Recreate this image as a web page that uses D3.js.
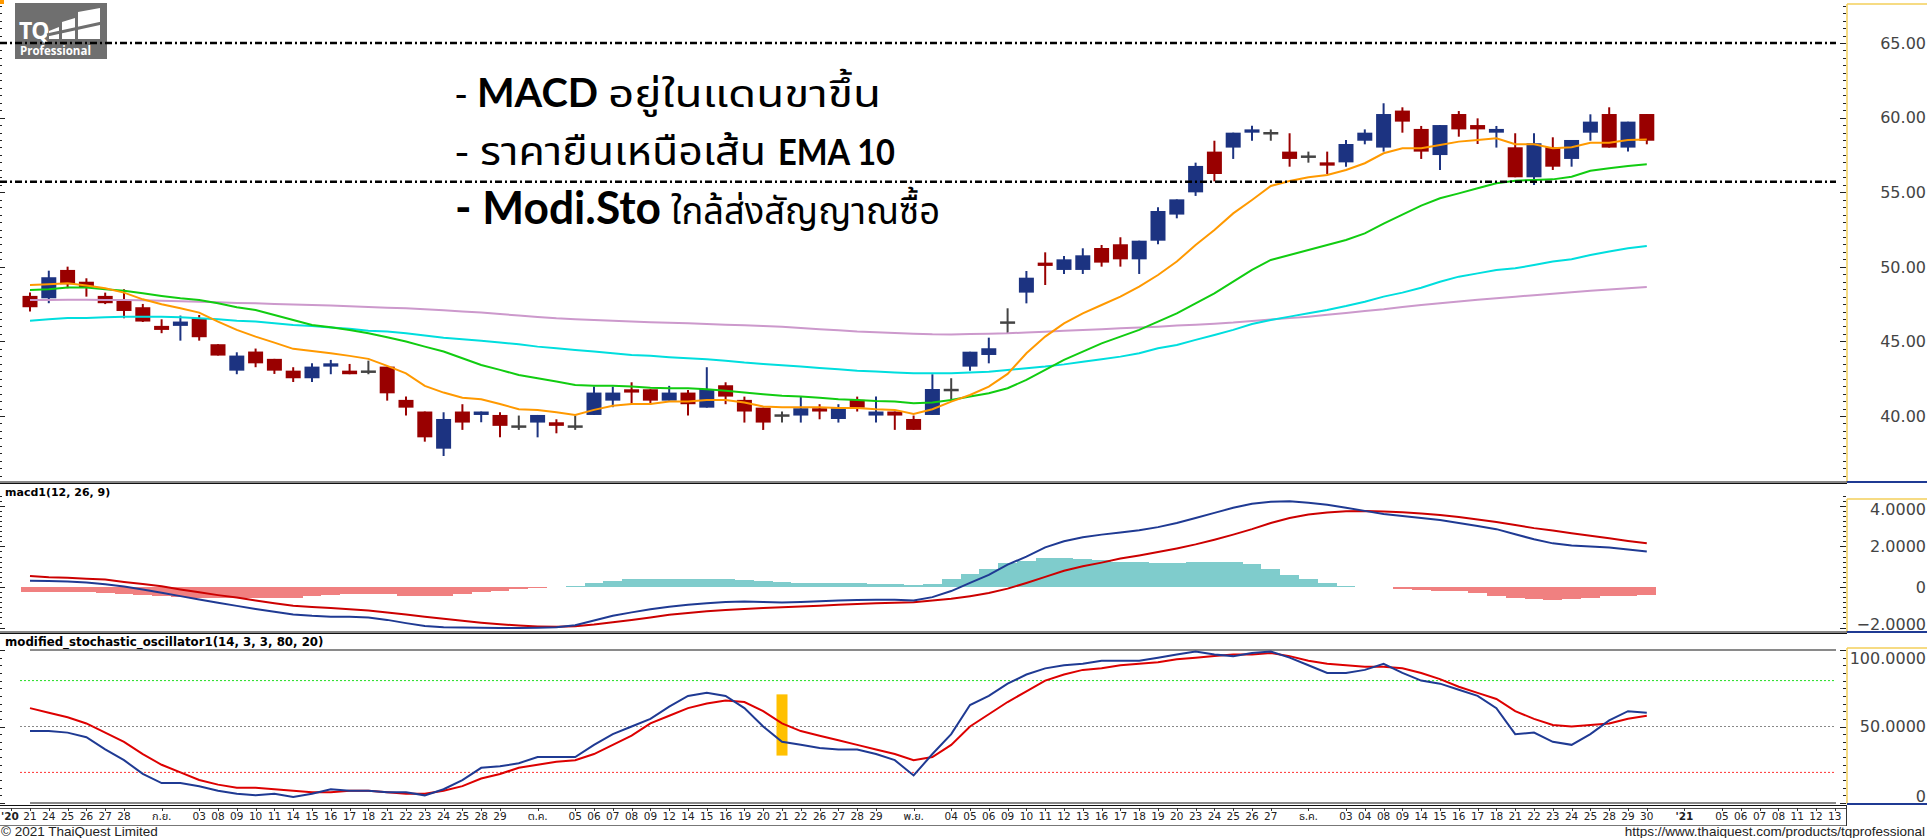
<!DOCTYPE html>
<html>
<head>
<meta charset="utf-8">
<script src="https://cdn.jsdelivr.net/npm/d3@7"></script>
<style>
  html, body { margin: 0; padding: 0; background: #fff; overflow: hidden; }
  svg { display: block; }
</style>
</head>
<body>
<div id="chart"></div>
<script>
// ---- price candles (one per trading day, Aug 21 2020 .. Dec 30 2020)
const open = [48.05,47.89,49.79,49.0,48.05,47.71,47.29,46.04,46.04,46.55,44.81,43.04,44.32,43.83,43.04,42.53,43.31,43.04,42.97,43.31,41.08,40.3,37.81,40.3,40.07,40.07,39.29,39.56,39.58,39.29,40.07,41.03,41.79,41.79,41.03,41.57,40.56,42.06,41.08,40.56,40.03,40.03,40.52,39.8,41.08,40.03,40.3,39.8,40.07,41.74,43.31,44.09,46.26,48.27,50.28,49.79,49.79,51.26,51.51,50.5,51.75,53.5,54.99,57.72,57.99,58.99,58.95,57.72,57.38,57.0,57.0,58.45,57.99,60.47,59.24,57.49,60.24,59.5,58.99,58.01,56.0,58.01,57.23,58.99,60.24,57.99,60.24];
const high = [48.27,49.74,50.01,49.23,48.27,48.49,47.51,46.48,46.73,46.77,44.81,44.27,44.52,43.83,43.27,43.53,43.76,43.49,43.71,43.31,41.3,40.3,40.25,40.79,40.3,40.25,40.03,40.07,39.78,40.03,41.97,41.97,42.26,41.79,42.02,41.75,43.27,42.26,41.3,40.56,40.3,41.3,40.79,40.79,41.3,41.3,40.3,40.03,42.8,42.53,44.31,45.25,47.22,49.72,50.97,50.73,51.24,51.46,51.98,51.75,53.99,54.52,56.98,58.45,58.99,59.46,59.21,58.95,57.72,57.72,58.5,59.21,60.96,60.69,59.44,59.5,60.44,59.95,59.44,58.95,58.95,58.68,58.5,60.22,60.69,59.73,60.24];
const low = [47.0,47.56,48.56,48.0,47.5,46.55,46.3,45.55,45.05,45.05,44.05,42.8,43.27,42.82,42.28,42.28,42.8,42.8,42.8,41.03,40.03,38.28,37.32,39.07,39.58,38.57,39.07,38.57,38.84,39.07,40.07,40.59,40.79,40.79,41.03,40.03,40.56,40.79,39.56,39.07,39.56,39.56,39.78,39.56,40.3,39.56,39.07,39.07,40.07,41.0,43.04,43.53,45.54,47.55,48.78,49.52,49.52,50.01,50.01,49.52,51.51,53.25,54.75,55.73,57.23,58.45,58.45,56.71,56.98,56.22,56.71,58.21,57.72,58.99,57.23,56.49,58.72,58.23,57.99,56.0,55.48,56.49,56.71,58.45,57.99,57.72,58.21];
const close = [47.29,49.3,48.83,48.63,47.56,47.04,46.33,45.77,46.33,45.28,44.05,44.05,43.53,43.04,42.53,43.31,43.53,42.8,42.97,41.52,40.56,38.57,39.8,39.56,40.3,39.34,39.29,40.07,39.34,39.29,41.57,41.57,41.57,41.03,41.57,40.79,41.81,41.3,40.3,39.56,40.03,40.52,40.3,40.52,40.56,40.3,40.03,39.07,41.81,41.74,44.31,44.54,46.26,49.27,50.06,50.5,50.77,50.28,50.5,51.75,53.74,54.52,56.76,56.22,58.99,59.21,58.95,57.23,57.38,56.78,58.23,58.99,60.24,59.73,57.72,59.5,59.21,59.21,59.24,56.0,58.28,56.71,58.5,59.73,57.99,59.73,58.45];

// ---- moving averages drawn on the price panel
const ema10 = [48.78,48.83,48.9,48.74,48.56,48.27,47.82,47.49,47.22,46.93,46.33,45.77,45.32,44.92,44.5,44.36,44.21,44.03,43.83,43.36,42.86,42.02,41.57,41.23,41.12,40.81,40.45,40.41,40.25,40.07,40.41,40.68,40.81,40.81,40.97,40.97,41.08,41.08,40.9,40.63,40.59,40.59,40.59,40.54,40.54,40.45,40.41,40.14,40.45,40.96,41.41,41.97,42.82,44.2,45.32,46.21,46.88,47.44,48.0,48.67,49.45,50.35,51.46,52.47,53.58,54.48,55.42,55.75,56.0,56.15,56.49,56.94,57.61,57.94,57.94,58.16,58.39,58.5,58.61,58.21,58.21,57.94,58.01,58.32,58.32,58.5,58.54];
const maGreen = [48.45,48.49,48.61,48.61,48.49,48.4,48.23,48.05,47.89,47.78,47.56,47.29,47.11,46.77,46.44,46.1,45.95,45.77,45.55,45.28,44.99,44.65,44.32,43.87,43.42,43.09,42.75,42.53,42.31,42.08,42.02,42.02,41.97,41.9,41.86,41.86,41.79,41.7,41.57,41.46,41.35,41.3,41.23,41.12,41.08,41.01,40.97,40.85,40.9,41.07,41.3,41.52,41.86,42.42,43.09,43.76,44.31,44.87,45.32,45.77,46.32,46.88,47.55,48.22,49.0,49.79,50.46,50.79,51.13,51.46,51.8,52.24,52.9,53.5,54.1,54.59,54.92,55.26,55.6,55.77,55.82,55.86,56.04,56.44,56.6,56.76,56.87];
const maCyan = [46.39,46.48,46.57,46.57,46.62,46.66,46.66,46.66,46.62,46.55,46.48,46.39,46.33,46.22,46.1,46.04,45.93,45.84,45.72,45.66,45.55,45.39,45.25,45.14,45.05,44.92,44.81,44.65,44.54,44.43,44.32,44.21,44.09,44.03,43.94,43.87,43.8,43.71,43.58,43.49,43.4,43.31,43.22,43.13,43.04,42.98,42.91,42.86,42.86,42.86,42.91,42.97,43.09,43.2,43.31,43.46,43.64,43.8,43.98,44.2,44.54,44.76,45.1,45.43,45.77,46.17,46.44,46.66,46.88,47.11,47.37,47.66,48.0,48.27,48.6,49.0,49.34,49.56,49.79,49.9,50.12,50.35,50.5,50.79,51.02,51.24,51.4];
const maPlum = [47.78,47.78,47.79,47.79,47.78,47.78,47.75,47.72,47.69,47.65,47.62,47.58,47.55,47.51,47.48,47.44,47.4,47.35,47.31,47.26,47.22,47.15,47.08,47.0,46.93,46.83,46.74,46.64,46.55,46.49,46.44,46.38,46.33,46.29,46.25,46.21,46.17,46.12,46.08,46.03,45.99,45.9,45.82,45.74,45.66,45.61,45.57,45.52,45.48,45.47,45.49,45.51,45.54,45.6,45.65,45.71,45.77,45.82,45.88,45.93,45.99,46.06,46.12,46.19,46.26,46.36,46.46,46.56,46.66,46.78,46.9,47.03,47.15,47.3,47.44,47.56,47.67,47.79,47.9,48.0,48.1,48.2,48.3,48.39,48.48,48.56,48.65];
const levelLines = [65.0, 55.7];

// ---- macd1(12, 26, 9)
const macdLine = [0.31,0.30,0.27,0.22,0.14,0.02,-0.12,-0.28,-0.45,-0.62,-0.78,-0.93,-1.08,-1.22,-1.35,-1.42,-1.46,-1.47,-1.50,-1.62,-1.78,-1.92,-1.98,-2.0,-2.01,-2.02,-2.02,-2.01,-1.98,-1.88,-1.65,-1.42,-1.25,-1.1,-0.97,-0.88,-0.8,-0.74,-0.72,-0.74,-0.76,-0.74,-0.7,-0.67,-0.64,-0.63,-0.63,-0.66,-0.5,-0.2,0.2,0.6,1.1,1.5,1.95,2.25,2.45,2.58,2.68,2.8,2.95,3.15,3.4,3.65,3.9,4.1,4.2,4.22,4.15,4.05,3.9,3.75,3.6,3.5,3.4,3.3,3.15,3.0,2.85,2.6,2.35,2.15,2.05,2.0,1.95,1.85,1.75];
const macdSignal = [0.54,0.48,0.45,0.41,0.37,0.25,0.15,0.04,-0.12,-0.26,-0.4,-0.52,-0.66,-0.8,-0.92,-0.99,-1.04,-1.1,-1.16,-1.26,-1.36,-1.46,-1.56,-1.66,-1.76,-1.84,-1.9,-1.94,-1.96,-1.93,-1.85,-1.74,-1.62,-1.5,-1.37,-1.28,-1.2,-1.13,-1.08,-1.03,-1.0,-0.96,-0.92,-0.88,-0.84,-0.8,-0.77,-0.75,-0.66,-0.58,-0.45,-0.3,-0.08,0.2,0.5,0.8,1.02,1.2,1.4,1.55,1.72,1.9,2.1,2.33,2.58,2.85,3.15,3.4,3.57,3.67,3.73,3.74,3.72,3.68,3.62,3.55,3.45,3.32,3.2,3.05,2.9,2.78,2.65,2.52,2.4,2.27,2.15];
const macdHist = [-0.25,-0.25,-0.26,-0.27,-0.3,-0.35,-0.38,-0.42,-0.47,-0.52,-0.55,-0.56,-0.56,-0.55,-0.55,-0.45,-0.4,-0.36,-0.33,-0.35,-0.42,-0.46,-0.42,-0.34,-0.25,-0.18,-0.12,-0.07,-0.02,0.05,0.2,0.32,0.37,0.4,0.4,0.4,0.4,0.39,0.36,0.29,0.24,0.22,0.22,0.21,0.2,0.17,0.14,0.09,0.16,0.38,0.65,0.9,1.18,1.3,1.42,1.42,1.38,1.32,1.25,1.22,1.2,1.2,1.22,1.25,1.22,1.15,0.9,0.6,0.4,0.2,0.03,0.0,0.0,-0.1,-0.15,-0.18,-0.22,-0.32,-0.45,-0.55,-0.6,-0.62,-0.6,-0.52,-0.46,-0.42,-0.4];

// ---- modified_stochastic_oscillator1(14, 3, 3, 80, 20)
const stochK = [47,47,46,43,35,28,19,13,13,11,8,6,5,6,4,6,9,8,8,7,7,5,9,15,23,24,26,30,30,30,38,45,50,55,63,70,72,70,62,50,40,38,36,35,35,32,28,18,32,45,64,70,78,84,88,90,91,93,93,93,95,97,99,97,96,98,99,95,90,85,85,87,91,85,80,78,74,70,62,45,46,40,38,45,54,60,59];
const stochD = [62,59,56,52,46,40,32,25,20,15,12,10,10,9,8,7,7,8,8,7,6,6,8,11,16,19,23,25,27,28,32,38,44,52,57,62,65,67,66,60,52,47,44,41,38,35,32,28,30,38,50,58,66,73,80,84,87,88,90,91,92,94,95,96,97,97,98,96,93,91,90,89,89,88,85,81,76,72,68,60,55,51,50,51,52,55,57];
const stochLevels = [80, 50, 20];
const stochMarks = [{ slot: 40, lo: 31, hi: 71 }];

// ---- date axis, first label sits one slot before the first candle
const xLabelStart = -1;
const xLabels = ["'20","21","24","25","26","27","28","","ก.ย.","",
  "03","08","09","10","11","14","15","16","17","18","21","22","23","24","25","28","29","","ต.ค.","",
  "05","06","07","08","09","12","14","15","16","19","20","21","22","26","27","28","29","","พ.ย.","",
  "04","05","06","09","10","11","12","13","16","17","18","19","20","23","24","25","26","27","","ธ.ค.","",
  "03","04","08","09","14","15","16","17","18","21","22","23","24","25","28","29","30","","'21","",
  "05","06","07","08","11","12","13"];

const priceTicks = [40, 45, 50, 55, 60, 65];
const macdTicks = [4, 2, 0, -2];
const stochTicks = [100, 50, 0];

// ---------------------------------------------------------------
const W = 1927, H = 838;
const plotRight = 1846;
const numFont = "'DejaVu Sans', Verdana, sans-serif";
const latinFont = "Lato, 'Open Sans', sans-serif";
const thaiFont = "'Noto Sans Thai', 'Noto Sans Thai UI', Tahoma, 'Leelawadee UI', 'Noto Sans', sans-serif";

const svg = d3.select("#chart").append("svg")
  .attr("width", W).attr("height", H)
  .style("background", "#fff");

const x = d3.scaleLinear().domain([0, 86]).range([30, 30 + 18.8 * 86]);
const yPrice = d3.scaleLinear().domain([40, 65]).range([416, 43]);
const yMacd = d3.scaleLinear().domain([-2, 4]).range([627.6, 505.8]);
const yStoch = d3.scaleLinear().domain([0, 100]).range([803, 650]);

const panels = [
  { name: "price", top: 4, bottom: 482, scale: yPrice, ticks: priceTicks,
    minor: d3.range(36, 68, 0.5), major: v => v % 5 === 0, fmt: d3.format(".2f") },
  { name: "macd", top: 499, bottom: 632, scale: yMacd, ticks: macdTicks,
    minor: d3.range(-2, 4.6, 0.25), major: v => Math.abs(v % 2) < 1e-9,
    fmt: v => (v === 0 ? "0" : d3.format(".4f")(v)) },
  { name: "stoch", top: 648, bottom: 804, scale: yStoch, ticks: stochTicks,
    minor: d3.range(0, 101, 5), major: v => v % 50 === 0,
    fmt: v => (v === 0 ? "0" : d3.format(".4f")(v)) }
];

// ---- right hand value boxes + ticks on both edges
panels.forEach(p => {
  const g = svg.append("g").attr("class", "axis-" + p.name);
  g.append("line").attr("x1", plotRight + 1).attr("x2", W).attr("y1", p.top).attr("y2", p.top)
    .attr("stroke", "#f3cf5a").attr("stroke-width", 1.5);
  g.append("line").attr("x1", plotRight + 1).attr("x2", plotRight + 1).attr("y1", p.top).attr("y2", p.bottom)
    .attr("stroke", "#f3cf5a").attr("stroke-width", 1.5);
  g.append("line").attr("x1", plotRight + 1).attr("x2", W).attr("y1", p.bottom).attr("y2", p.bottom)
    .attr("stroke", "#1f3a93").attr("stroke-width", 2);

  p.minor.forEach(v => {
    const yy = Math.round(p.scale(v)) + 0.5;
    if (yy < p.top - 3 || yy > p.bottom) return;
    const len = p.major(v) ? 6 : 3;
    g.append("line").attr("x1", plotRight - len).attr("x2", plotRight).attr("y1", yy).attr("y2", yy)
      .attr("stroke", "#222").attr("stroke-width", 1);
    g.append("line").attr("x1", 0).attr("x2", len - 1).attr("y1", yy).attr("y2", yy)
      .attr("stroke", "#222").attr("stroke-width", 1);
  });

  g.selectAll("text.val").data(p.ticks).enter().append("text")
    .attr("class", "val")
    .attr("x", W - 1)
    .attr("y", d => Math.min(Math.max(p.scale(d), p.top + 10), p.bottom - 8))
    .attr("dy", "0.36em")
    .attr("text-anchor", "end")
    .style("font-family", numFont)
    .style("font-size", "16px")
    .style("fill", "#444")
    .text(p.fmt);
});

// ---- panel separators
[482, 483.5, 632, 633.5].forEach(yy => {
  svg.append("line").attr("x1", 0).attr("x2", plotRight + 1).attr("y1", yy).attr("y2", yy)
    .attr("stroke", "#111").attr("stroke-width", 1.2);
});

// ---- logo
const logo = svg.append("g").attr("class", "logo");
logo.append("rect").attr("x", 0).attr("y", 0).attr("width", 4).attr("height", 4).attr("fill", "#ff9900");
logo.append("rect").attr("x", 15).attr("y", 3).attr("width", 92).attr("height", 56).attr("fill", "#6f6f6f");
logo.append("text").attr("x", 19).attr("y", 39)
  .style("font-family", "'Open Sans', sans-serif").style("font-weight", 700).style("font-size", "23px")
  .style("fill", "#fff").style("letter-spacing", "-1px").text("TQ");
[[49, 27, 10], [62, 18, 13], [78, 8, 22]].forEach(([bx, by, bw]) => {
  logo.append("polygon")
    .attr("points", `${bx},${by + 4} ${bx + bw},${by} ${bx + bw},39 ${bx},39`)
    .attr("fill", "#fff");
});
logo.append("line").attr("x1", 47).attr("y1", 35).attr("x2", 102).attr("y2", 23)
  .attr("stroke", "#6f6f6f").attr("stroke-width", 3);
logo.append("text").attr("x", 20).attr("y", 55)
  .style("font-family", "'Open Sans', sans-serif").style("font-weight", 700).style("font-size", "11.5px")
  .style("fill", "#fff").text("Professional");

// ---- price panel: candles
const candles = svg.append("g").attr("class", "candles");
const candleColor = i => (close[i] > open[i] ? "#1c3381" : close[i] < open[i] ? "#990000" : "#444");
open.forEach((o, i) => {
  const cx = x(i), col = candleColor(i);
  candles.append("line")
    .attr("x1", cx).attr("x2", cx)
    .attr("y1", yPrice(high[i])).attr("y2", yPrice(low[i]))
    .attr("stroke", col).attr("stroke-width", 2);
  const top = yPrice(Math.max(o, close[i])), bot = yPrice(Math.min(o, close[i]));
  if (bot - top < 1.5) {
    candles.append("line")
      .attr("x1", cx - 7.5).attr("x2", cx + 7.5).attr("y1", top).attr("y2", top)
      .attr("stroke", col).attr("stroke-width", 2.5);
  } else {
    candles.append("rect")
      .attr("x", cx - 7.5).attr("width", 15)
      .attr("y", top).attr("height", bot - top)
      .attr("fill", col);
  }
});

// ---- moving averages over candles
const priceLine = d3.line().x((d, i) => x(i)).y(d => yPrice(d));
[[maPlum, "#cc99cc"], [maCyan, "#00dede"], [maGreen, "#11cc11"], [ema10, "#ff9900"]].forEach(([arr, col]) => {
  svg.append("path").datum(arr).attr("d", priceLine)
    .attr("fill", "none").attr("stroke", col).attr("stroke-width", 2);
});

// ---- horizontal dash-dot levels
svg.append("g").selectAll("line").data(levelLines).enter().append("line")
  .attr("x1", 0).attr("x2", 1836)
  .attr("y1", d => yPrice(d)).attr("y2", d => yPrice(d))
  .attr("stroke", "#000").attr("stroke-width", 2.5)
  .attr("stroke-dasharray", "7,3,2,3");

// ---- annotation text: each run is placed and fitted to its width in the picture
const note = svg.append("g").attr("class", "note");
const noteRuns = [
  // text, x, baseline, width (0 = natural), weight, size, family
  ["-", 455, 107, 0, 400, 38, thaiFont],
  ["MACD", 477, 107, 121, 700, 40, latinFont],
  ["อยู่ในแดนขาขึ้น", 608, 107, 273, 400, 38, thaiFont],
  ["- ราคายืนเหนือเส้น", 455, 165, 311, 400, 39, thaiFont],
  ["EMA 10", 778, 165, 117, 700, 37, latinFont],
  ["- Modi.Sto", 455, 224, 206, 700, 45, latinFont],
  ["ใกล้ส่งสัญญาณซื้อ", 671, 224, 269, 400, 37, thaiFont]
];
noteRuns.forEach(([s, tx, ty, tw, w, fs, ff]) => {
  const t = note.append("text").attr("x", tx).attr("y", ty)
    .style("font-weight", w).style("font-size", fs + "px").style("font-family", ff)
    .style("fill", "#000").text(s);
  if (tw) t.attr("textLength", tw).attr("lengthAdjust", "spacingAndGlyphs");
});

// ---- macd panel
svg.append("text").attr("x", 5).attr("y", 496)
  .style("font-family", numFont).style("font-weight", 700).style("font-size", "11px")
  .text("macd1(12, 26, 9)");

svg.append("g").selectAll("rect").data(macdHist).enter().append("rect")
  .attr("x", (d, i) => x(i) - 9.4)
  .attr("width", 18.8)
  .attr("y", d => yMacd(Math.max(0, d)))
  .attr("height", d => Math.abs(yMacd(d) - yMacd(0)))
  .attr("fill", d => (d >= 0 ? "#7fcccc" : "#f08080"))
  .attr("shape-rendering", "crispEdges");

const macdPath = d3.line().x((d, i) => x(i)).y(d => yMacd(d));
svg.append("path").datum(macdSignal).attr("d", macdPath)
  .attr("fill", "none").attr("stroke", "#cc0000").attr("stroke-width", 2);
svg.append("path").datum(macdLine).attr("d", macdPath)
  .attr("fill", "none").attr("stroke", "#1f3a93").attr("stroke-width", 2);

// ---- stochastic panel
svg.append("text").attr("x", 5).attr("y", 646)
  .style("font-family", numFont).style("font-weight", 700).style("font-size", "11.8px")
  .text("modified_stochastic_oscillator1(14, 3, 3, 80, 20)");

[0, 100].forEach(v => {
  svg.append("line").attr("x1", 30).attr("x2", 1836).attr("y1", yStoch(v)).attr("y2", yStoch(v))
    .attr("stroke", "#8a8a8a").attr("stroke-width", 2);
});
const levelColor = { 80: "#22dd22", 50: "#888", 20: "#ff3333" };
stochLevels.forEach(v => {
  svg.append("line").attr("x1", 20).attr("x2", 1836).attr("y1", yStoch(v)).attr("y2", yStoch(v))
    .attr("stroke", levelColor[v]).attr("stroke-width", 1).attr("stroke-dasharray", "2,2");
});
stochMarks.forEach(m => {
  svg.append("rect").attr("x", x(m.slot) - 5.5).attr("width", 11)
    .attr("y", yStoch(m.hi)).attr("height", yStoch(m.lo) - yStoch(m.hi))
    .attr("fill", "#ffc000");
});
const stochPath = d3.line().x((d, i) => x(i)).y(d => yStoch(d));
svg.append("path").datum(stochD).attr("d", stochPath)
  .attr("fill", "none").attr("stroke", "#dd0000").attr("stroke-width", 2);
svg.append("path").datum(stochK).attr("d", stochPath)
  .attr("fill", "none").attr("stroke", "#1f3a93").attr("stroke-width", 2);

// ---- date axis band
const ax = svg.append("g").attr("class", "date-axis");
ax.append("line").attr("x1", 0).attr("x2", plotRight + 1).attr("y1", 805.5).attr("y2", 805.5)
  .attr("stroke", "#111").attr("stroke-width", 1);
ax.append("line").attr("x1", 0).attr("x2", plotRight + 1).attr("y1", 808.5).attr("y2", 808.5)
  .attr("stroke", "#555").attr("stroke-width", 1);
ax.append("line").attr("x1", 0).attr("x2", plotRight + 1).attr("y1", 825.5).attr("y2", 825.5)
  .attr("stroke", "#777").attr("stroke-width", 1);
ax.append("line").attr("x1", plotRight + 0.5).attr("x2", plotRight + 0.5).attr("y1", 805).attr("y2", 826)
  .attr("stroke", "#333").attr("stroke-width", 1);

xLabels.forEach((s, k) => {
  if (!s) return;
  const slot = k + xLabelStart;
  const lx = x(slot);
  ax.append("line").attr("x1", Math.round(lx) + 0.5).attr("x2", Math.round(lx) + 0.5)
    .attr("y1", 808).attr("y2", 811).attr("stroke", "#333");
  const isYear = s.startsWith("'");
  const isThai = /[\u0E00-\u0E7F]/.test(s);
  ax.append("text")
    .attr("x", slot === xLabelStart ? 1 : lx)
    .attr("y", 820)
    .attr("text-anchor", slot === xLabelStart ? "start" : "middle")
    .style("font-family", isThai ? thaiFont : numFont)
    .style("font-size", isThai ? "11px" : "10.5px")
    .style("font-weight", isYear ? 700 : 400)
    .style("fill", "#222")
    .text(s);
});

// ---- footer
svg.append("text").attr("x", 1).attr("y", 836)
  .style("font-family", "'Liberation Sans', Arial, sans-serif").style("font-size", "13.5px").style("fill", "#222")
  .text("© 2021 ThaiQuest Limited");
svg.append("text").attr("x", W - 2).attr("y", 836).attr("text-anchor", "end")
  .style("font-family", "'Liberation Sans', Arial, sans-serif").style("font-size", "13.5px").style("fill", "#222")
  .text("https://www.thaiquest.com/products/tqprofessional");
</script>
</body>
</html>
